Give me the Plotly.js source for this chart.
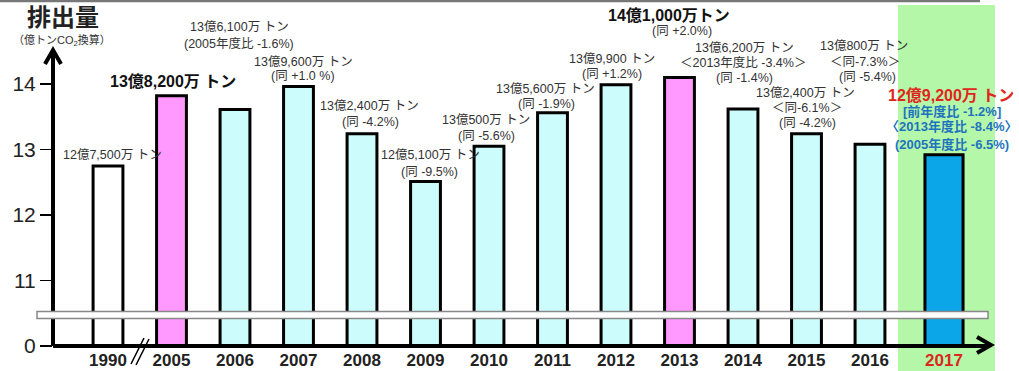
<!DOCTYPE html>
<html>
<head>
<meta charset="utf-8">
<script src="https://cdn.plot.ly/plotly-3.0.1.min.js"></script>
<style>html,body{margin:0;padding:0;background:#fff;}#chart{width:1019px;height:371px;}</style>
</head>
<body>
<div id="chart"></div>
<script>
// ---- data ----
const years = ['1990','2005','2006','2007','2008','2009','2010','2011','2012','2013','2014','2015','2016','2017'];
const emissions = [12.75, 13.82, 13.61, 13.96, 13.24, 12.51, 13.05, 13.56, 13.99, 14.10, 13.62, 13.24, 13.08, 12.92]; // 億トンCO2
const yTickVals = [10, 11, 12, 13, 14];
const yTickText = ['0', '11', '12', '13', '14'];
const labelText = [
  ['12億7,500万 トン'],
  ['13億8,200万 トン'],
  ['13億6,100万 トン', '(2005年度比 -1.6%)'],
  ['13億9,600万 トン', '(同 +1.0 %)'],
  ['13億2,400万 トン', '(同 -4.2%)'],
  ['12億5,100万 トン', '(同 -9.5%)'],
  ['13億500万 トン', '(同 -5.6%)'],
  ['13億5,600万 トン', '(同 -1.9%)'],
  ['13億9,900 トン', '(同 +1.2%)'],
  ['14億1,000万トン', '(同 +2.0%)'],
  ['13億6,200万 トン', '＜2013年度比 -3.4%＞', '(同 -1.4%)'],
  ['13億2,400万 トン', '＜同-6.1%＞', '(同 -4.2%)'],
  ['13億800万 トン', '＜同-7.3%＞', '(同 -5.4%)'],
  ['12億9,200万 トン', '[前年度比 -1.2%]', '〈2013年度比 -8.4%〉', '(2005年度比 -6.5%)']
];

// ---- styles / placement ----
const W = 1019, H = 371, L = 53, R = 19;
const PW = W - L - R;
const px = x => (x - L) / PW;
const py = y => (H - y) / H;
const FONT = 'Liberation Sans, Arial, "Noto Sans CJK JP", sans-serif';
const BASE = 10; // position of the broken-axis zero

const barColors = ['#ffffff','#ff99ff','#ccfcfc','#ccfcfc','#ccfcfc','#ccfcfc','#ccfcfc','#ccfcfc','#ccfcfc','#ff99ff','#ccfcfc','#ccfcfc','#ccfcfc','#0aa6e8'];
// label line centers in pixels
const labelPos = [
  [[112,155]],
  [[173,81]],
  [[239,27],[239,43]],
  [[303,62],[303,76]],
  [[369,106],[370,122]],
  [[430,155],[429,172]],
  [[486,120],[486,136]],
  [[545,89],[546,104]],
  [[612,59],[612,74]],
  [[669,15],[682,31]],
  [[744,48],[743,63],[744,78]],
  [[805,93],[807,108],[807,123]],
  [[864,46],[865,62],[867,77]],
  [[951,96],[952,111],[952,127],[952,144]]
];
const normalFont = {family: FONT, size: 12.5, color: '#333'};
function lineFont(i, j) {
  if (i === 13) {
    if (j === 0) return {family: FONT, size: 16, color: '#e0261c', weight: 700};
    return {family: FONT, size: 13, color: '#1e73be', weight: 700};
  }
  if ((i === 1 || i === 9) && j === 0) return {family: FONT, size: 16, color: '#111', weight: 700};
  return normalFont;
}

const n = years.length;
const mainTrace = {
  type: 'bar',
  x: years.slice(0, n - 1),
  y: emissions.slice(0, n - 1).map(v => v - BASE),
  base: BASE,
  width: 0.47,
  marker: {color: barColors.slice(0, n - 1), line: {color: '#000', width: 3}},
  xaxis: 'x', yaxis: 'y',
  hoverinfo: 'x+text',
  text: emissions.slice(0, n - 1).map(String),
  textposition: 'none'
};
const lastTrace = {
  type: 'bar',
  x: years.slice(n - 1),
  y: emissions.slice(n - 1).map(v => v - BASE),
  base: BASE,
  width: 0.6,
  marker: {color: barColors.slice(n - 1), line: {color: '#000', width: 3}},
  xaxis: 'x2', yaxis: 'y',
  hoverinfo: 'x+text',
  text: emissions.slice(n - 1).map(String),
  textposition: 'none'
};

const annotations = [];
labelText.forEach((lines, i) => {
  lines.forEach((t, j) => {
    const p = labelPos[i][j];
    annotations.push({
      xref: 'paper', yref: 'paper', x: px(p[0]), y: py(p[1]),
      xanchor: 'center', yanchor: 'middle', showarrow: false,
      text: t, font: lineFont(i, j)
    });
  });
});
annotations.push({
  xref: 'paper', yref: 'paper', x: px(62), y: py(40), xanchor: 'center', yanchor: 'middle',
  showarrow: false, text: '（億トンCO<sub>2</sub>換算）', font: {family: FONT, size: 11, color: '#333'}
});

const pathPx = pts => pts.map((p, k) => (k ? 'L' : 'M') + px(p[0]) + ',' + py(p[1])).join(' ');
const shapes = [
  {type: 'rect', xref: 'paper', yref: 'paper', x0: px(898), x1: px(995), y0: py(371), y1: py(5),
   fillcolor: '#b5f7a9', line: {width: 0}, layer: 'below'},
  {type: 'line', xref: 'paper', yref: 'paper', x0: px(0), x1: px(980), y0: py(1), y1: py(1),
   line: {color: '#777', width: 2.5}},
  {type: 'line', xref: 'paper', yref: 'paper', x0: px(53), x1: px(990), y0: py(346), y1: py(346),
   line: {color: '#000', width: 4}},
  {type: 'path', xref: 'paper', yref: 'paper', path: pathPx([[977,337],[991,345],[977,353]]),
   line: {color: '#000', width: 4}},
  {type: 'line', xref: 'paper', yref: 'paper', x0: px(53), x1: px(53), y0: py(346), y1: py(51),
   line: {color: '#000', width: 4}},
  {type: 'path', xref: 'paper', yref: 'paper', path: pathPx([[45,64],[53,50],[61,64]]),
   line: {color: '#000', width: 4}},
  {type: 'rect', xref: 'paper', yref: 'paper', x0: px(37), x1: px(988), y0: py(318.5), y1: py(311.5),
   fillcolor: '#ffffff', line: {color: '#888', width: 1.5}},
  {type: 'line', xref: 'paper', yref: 'paper', x0: px(131), x1: px(144), y0: py(364), y1: py(338),
   line: {color: '#000', width: 1.5}},
  {type: 'line', xref: 'paper', yref: 'paper', x0: px(136), x1: px(149), y0: py(365), y1: py(339),
   line: {color: '#000', width: 1.5}}
];

const unit = 63.5;
const x0 = -(108 - L) / unit;
const x2start = -(944 - L) / unit;
const span = PW / unit;
const axisPos = py(346);

const layout = {
  width: W, height: H,
  margin: {l: L, r: R, t: 0, b: 0},
  paper_bgcolor: '#fff', plot_bgcolor: 'rgba(0,0,0,0)',
  showlegend: false,
  barmode: 'overlay',
  title: {text: '排出量', font: {family: FONT, size: 24, color: '#222', weight: 700},
          xref: 'container', yref: 'container', x: 63 / W, y: 1 - 18 / H, xanchor: 'center', yanchor: 'middle'},
  xaxis: {type: 'category', range: [x0, x0 + span], anchor: 'free', position: axisPos,
          showline: false, showgrid: false, zeroline: false, ticks: '', ticklabelstandoff: 2,
          tickfont: {family: FONT, size: 17, color: '#222', weight: 700}, fixedrange: true},
  xaxis2: {type: 'category', overlaying: 'x', range: [x2start, x2start + span], anchor: 'free', position: axisPos,
           showline: false, showgrid: false, zeroline: false, ticks: '', ticklabelstandoff: 2,
           tickfont: {family: FONT, size: 17, color: '#d9281c', weight: 700}, fixedrange: true},
  yaxis: {range: [BASE - 25 / 65.5, 14 + 84 / 65.5], tickvals: yTickVals, ticktext: yTickText,
          ticks: 'outside', ticklen: 12, tickwidth: 1.5, tickcolor: '#000',
          showline: false, showgrid: false, zeroline: false,
          tickfont: {family: FONT, size: 21, color: '#222'}, fixedrange: true},
  shapes: shapes,
  annotations: annotations
};

Plotly.newPlot('chart', [mainTrace, lastTrace], layout, {displayModeBar: false, staticPlot: true});
</script>
</body>
</html>
